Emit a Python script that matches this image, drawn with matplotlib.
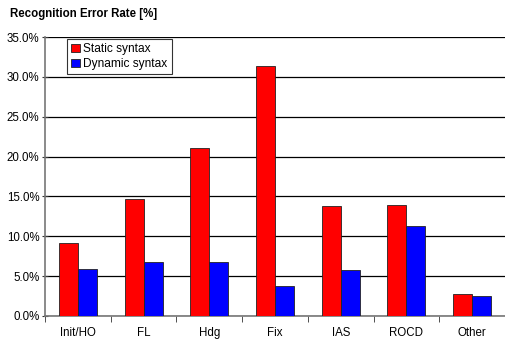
import matplotlib.pyplot as plt
import numpy as np
from matplotlib.ticker import FuncFormatter

plt.rcParams['font.family'] = ['Liberation Sans', 'DejaVu Sans']

categories = ["Init/HO", "FL", "Hdg", "Fix", "IAS", "ROCD", "Other"]
static_syntax = [9.1, 14.7, 21.1, 31.4, 13.8, 13.9, 2.7]
dynamic_syntax = [5.9, 6.8, 6.8, 3.8, 5.8, 11.25, 2.5]

fig = plt.figure(figsize=(5.05, 3.4), dpi=100)
ax = fig.add_axes([45 / 505, 24 / 340, 460 / 505, 279 / 340])

x = np.arange(len(categories))
w = 0.29
ax.bar(x - w / 2, static_syntax, w, color="#ff0000", edgecolor="#222222", linewidth=0.6,
       label="Static syntax", zorder=3)
ax.bar(x + w / 2, dynamic_syntax, w, color="#0000ff", edgecolor="#222222", linewidth=0.6,
       label="Dynamic syntax", zorder=3)

ax.set_xlim(-0.5, len(categories) - 0.5)
ax.set_ylim(0, 35)
ax.set_yticks(np.arange(0, 35.1, 5))
ax.yaxis.set_major_formatter(FuncFormatter(lambda v, p: "%.1f%%" % v))
ax.yaxis.grid(True, color="black", linewidth=0.9, zorder=0)

ax.set_xticks(x)
ax.set_xticklabels(categories)
ax.set_xticks(np.arange(-0.5, len(categories), 1), minor=True)
ax.tick_params(axis="x", which="major", length=0, pad=8, labelsize=8.3)
ax.tick_params(axis="x", which="minor", length=4, direction="out", color="#333333")
ax.tick_params(axis="y", length=4, direction="inout", labelsize=8.3, pad=2, color="#333333")

for s in ["top", "right"]:
    ax.spines[s].set_visible(False)
ax.spines["left"].set_color("#777777")
ax.spines["bottom"].set_color("#777777")
ax.spines["left"].set_linewidth(1.2)
ax.spines["bottom"].set_linewidth(1.2)

leg = ax.legend(loc="upper left", bbox_to_anchor=(22 / 460, 1 - 2 / 279), fontsize=8.6,
                frameon=True, fancybox=False, edgecolor="black", handlelength=0.75,
                handleheight=0.75, handletextpad=0.25, borderpad=0.35, labelspacing=0.25,
                borderaxespad=0)
leg.get_frame().set_linewidth(0.8)

fig.text(10 / 505, 1 - 14 / 340, "Recognition Error Rate [%]", fontsize=8.3,
         fontweight="bold", va="center", ha="left")

fig.savefig("out.png", dpi=100)
